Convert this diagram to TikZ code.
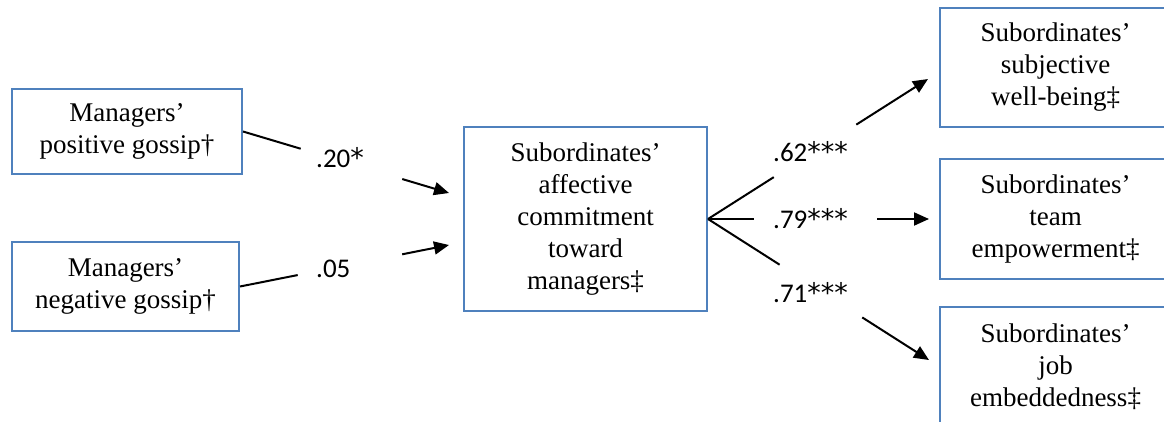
\documentclass[tikz,border=0pt]{standalone}
\usepackage{fontspec}
\setmainfont{Liberation Serif}
\newfontfamily\boxfont{Liberation Serif}
\newfontfamily\lblfont{Carlito}
\newfontfamily\starfont{DejaVu Sans}
\newcommand{\stars}[1]{{\starfont #1}}
\usetikzlibrary{arrows.meta,calc}
\definecolor{boxblue}{RGB}{79,129,189}
\begin{document}
\begin{tikzpicture}[x=1pt,y=-1pt,
  box/.style={draw=boxblue,line width=2pt,align=center,inner sep=0pt,
    font=\boxfont\fontsize{27}{32}\selectfont},
  conn/.style={line width=2pt,black},
  arr/.style={conn,-{Triangle[length=15pt,width=13pt]}},
  coef/.style={font=\lblfont\fontsize{27}{32}\selectfont,anchor=base west,inner sep=0pt}]
\useasboundingbox (0,0) rectangle (1164,421);
\clip (0,0) rectangle (1164,421);

% boxes
\node[box,minimum width=230pt,minimum height=85pt] (mp) at (127,131.5)
  {Managers’\\positive gossip†};
\node[box,minimum width=227pt,minimum height=89pt] (mn) at (125.5,286.5)
  {Managers’\\negative gossip†};
\node[box,minimum width=243pt,minimum height=184pt] (c) at (585.5,219)
  {Subordinates’\\affective\\commitment\\toward\\managers‡};
\node[box,minimum width=231pt,minimum height=119pt] (s1) at (1055.5,67.5)
  {Subordinates’\\subjective\\well-being‡};
\node[box,minimum width=231pt,minimum height=120pt] (s2) at (1055.5,219)
  {Subordinates’\\team\\empowerment‡};
\node[box,minimum width=231pt,minimum height=120pt] (s3) at (1055.5,367)
  {Subordinates’\\job\\embeddedness‡};

% arrow end points
\coordinate (cin1) at (449,193);
\coordinate (cin2) at (449,245);
\coordinate (o1) at (928,79);
\coordinate (o2) at (929,219);
\coordinate (o3) at (929,360);

% left connectors
\draw[conn] (mp.east) -- ($(mp.east)!0.280!(cin1)$);
\draw[arr] ($(mp.east)!0.773!(cin1)$) -- (cin1);
\draw[conn] (mn.east) -- ($(mn.east)!0.276!(cin2)$);
\draw[arr] ($(mn.east)!0.776!(cin2)$) -- (cin2);

% right connectors
\draw[conn] (c.east) -- ($(c.east)!0.299!(o1)$);
\draw[arr] ($(c.east)!0.674!(o1)$) -- (o1);
\draw[conn] (c.east) -- ($(c.east)!0.207!(o2)$);
\draw[arr] ($(c.east)!0.766!(o2)$) -- (o2);
\draw[conn] (c.east) -- ($(c.east)!0.324!(o3)$);
\draw[arr] ($(c.east)!0.698!(o3)$) -- (o3);

% coefficients
\node[coef] (k1) at (316,167) {.20\stars{*}};
\node[coef] (k2) at (316,277) {.05};
\node[coef] (k3) at (773,161) {.62\stars{***}};
\node[coef] (k4) at (773,228) {.79\stars{***}};
\node[coef] (k5) at (773,302) {.71\stars{***}};
\end{tikzpicture}
\end{document}
